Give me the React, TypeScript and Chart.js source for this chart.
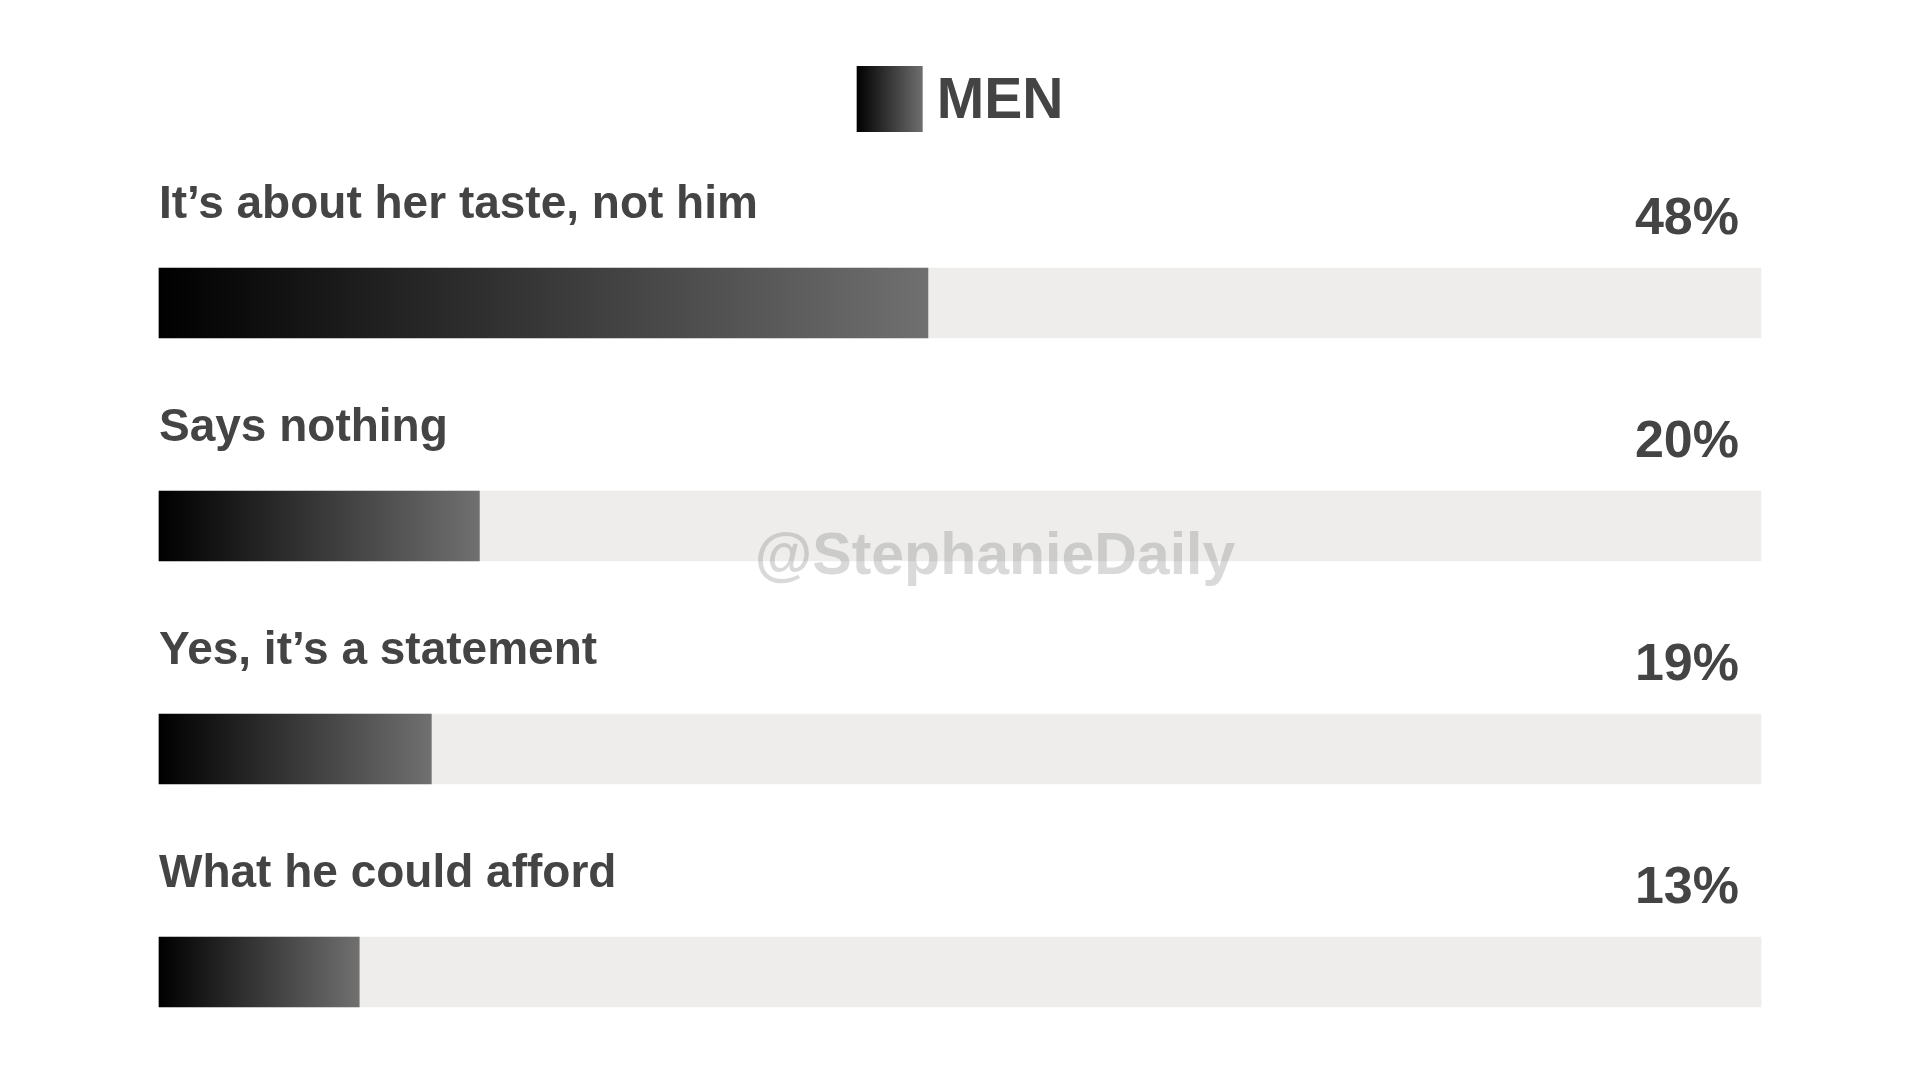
import React, { useRef, useEffect } from "react";
import { Chart, registerables, Plugin, ScriptableContext } from "chart.js";

Chart.register(...registerables);

// Survey answers (men) and the share drawn for each bar
const categories = [
  "It’s about her taste, not him",
  "Says nothing",
  "Yes, it’s a statement",
  "What he could afford",
];
// bar lengths as drawn in the source (the third bar is drawn shorter than its printed 19%)
const shares = [48, 20, 17, 12.5];
const shareLabels = ["48%", "20%", "19%", "13%"];
const seriesName = "MEN";
const scaleMax = 100;

const TEXT_COLOR = "#444444";
const TRACK_COLOR = "#EEEDEB";
const FONT = '"Liberation Sans", Arial, Helvetica, sans-serif';

const barGradient = (ctx: ScriptableContext<"bar">) => {
  const chart = ctx.chart;
  if (!chart.chartArea || ctx.type !== "data") return "#333333";
  const xScale = chart.scales.x;
  const x0 = xScale.getPixelForValue(0);
  const x1 = xScale.getPixelForValue(ctx.raw as number);
  const g = chart.ctx.createLinearGradient(x0, 0, x1, 0);
  g.addColorStop(0, "#000000");
  g.addColorStop(1, "#707070");
  return g;
};

// draws the category text, the percentages, the legend and the watermark
const labelPlugin: Plugin<"bar"> = {
  id: "barLabels",
  afterDatasetsDraw(chart) {
    const { ctx, chartArea } = chart;
    const meta = chart.getDatasetMeta(0);
    ctx.save();
    ctx.fillStyle = TEXT_COLOR;
    meta.data.forEach((bar, i) => {
      const props = bar.getProps(["y", "height"], true) as { y: number; height: number };
      const top = props.y - props.height / 2;
      ctx.font = `bold 46px ${FONT}`;
      ctx.textAlign = "left";
      ctx.textBaseline = "alphabetic";
      ctx.fillText(categories[i], chartArea.left, top - 50);
      ctx.font = `bold 52px ${FONT}`;
      ctx.textAlign = "right";
      ctx.fillText(shareLabels[i], chartArea.right - 22, top - 34);
    });

    // legend: gradient square + series name, centred above the bars
    ctx.font = `bold 57px ${FONT}`;
    const textW = ctx.measureText(seriesName).width;
    const box = 66;
    const gap = 14;
    const startX = (chartArea.left + chartArea.right) / 2 - (box + gap + textW) / 2;
    const g = ctx.createLinearGradient(startX, 0, startX + box, 0);
    g.addColorStop(0, "#000000");
    g.addColorStop(1, "#6e6e6e");
    ctx.fillStyle = g;
    ctx.fillRect(startX, 66, box, box);
    ctx.fillStyle = TEXT_COLOR;
    ctx.textAlign = "left";
    ctx.fillText(seriesName, startX + box + gap, 118);
    ctx.restore();
  },
  afterDraw(chart) {
    const { ctx } = chart;
    ctx.save();
    ctx.font = `bold 59px ${FONT}`;
    ctx.fillStyle = "rgba(84, 84, 84, 0.22)";
    ctx.textAlign = "center";
    ctx.textBaseline = "alphabetic";
    ctx.fillText("@StephanieDaily", chart.width / 2 + 35, 574);
    ctx.restore();
  },
};

const MenBarChart: React.FC = () => {
  const chartRef = useRef<HTMLCanvasElement | null>(null);

  useEffect(() => {
    document.body.style.margin = "0";
    document.body.style.background = "#ffffff";
    if (!chartRef.current) return;
    const chartInstance = new Chart(chartRef.current, {
      type: "bar",
      data: {
        labels: categories,
        datasets: [
          {
            label: seriesName,
            data: shares,
            backgroundColor: barGradient,
            barThickness: 70,
            grouped: false,
            order: 1,
            clip: false,
          },
          {
            label: "track",
            data: categories.map(() => scaleMax),
            backgroundColor: TRACK_COLOR,
            barThickness: 70,
            grouped: false,
            order: 2,
            clip: false,
          },
        ],
      },
      options: {
        indexAxis: "y",
        responsive: false,
        animation: false,
        events: [],
        layout: {
          padding: { left: 159, right: 159, top: 303, bottom: 108 },
        },
        scales: {
          x: { display: false, min: 0, max: scaleMax },
          y: { display: false, offset: false },
        },
        plugins: {
          legend: { display: false },
          tooltip: { enabled: false },
        },
      },
      plugins: [labelPlugin],
    });

    return () => {
      chartInstance.destroy();
    };
  }, []);

  return (
    <div style={{ width: 1920, height: 1080, background: "#ffffff" }}>
      <canvas ref={chartRef} width={1920} height={1080} />
    </div>
  );
};

export default function App() {
  return <MenBarChart />;
}
